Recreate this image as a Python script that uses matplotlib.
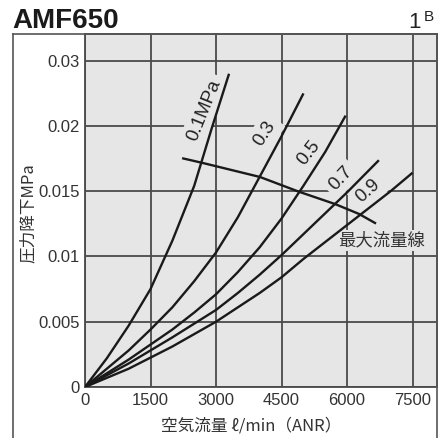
import matplotlib
matplotlib.use('Agg')
import matplotlib.pyplot as plt
from matplotlib.lines import Line2D

plt.rcParams['font.family'] = ['Liberation Sans', 'Noto Sans CJK JP', 'DejaVu Sans']

# curves: air flow (l/min ANR) vs pressure drop (MPa)
flow_01 = [0, 500, 1000, 1500, 2000, 2500, 2910, 3290]
drop_01 = [0, 0.0022, 0.0047, 0.0075, 0.0112, 0.0154, 0.0199, 0.0239]

flow_03 = [0, 1000, 1500, 2000, 2500, 3000, 3500, 4000, 4500, 4990]
drop_03 = [0, 0.0028, 0.0044, 0.0061, 0.0081, 0.0103, 0.0130, 0.0161, 0.0192, 0.0224]

flow_05 = [0, 1000, 2000, 2500, 3000, 3500, 4000, 4500, 5000, 5500, 5954]
drop_05 = [0, 0.0021, 0.0044, 0.0057, 0.0071, 0.0088, 0.0107, 0.0129, 0.0154, 0.0180, 0.0207]

flow_07 = [0, 1000, 2000, 3000, 3500, 4000, 4500, 5000, 5500, 6000, 6710]
drop_07 = [0, 0.0018, 0.0038, 0.0059, 0.0072, 0.0086, 0.0101, 0.0117, 0.0133, 0.0149, 0.0173]

flow_09 = [0, 1000, 2000, 3000, 4000, 4500, 5000, 5500, 6000, 6500, 7000, 7480]
drop_09 = [0, 0.0014, 0.0031, 0.0050, 0.0072, 0.0084, 0.0098, 0.0111, 0.0124, 0.0137, 0.0150, 0.01635]

# max flow line
max_flow = [2250, 2702, 4008, 4901, 5725, 6275, 6640]
max_drop = [0.0175, 0.01715, 0.01608, 0.01495, 0.01401, 0.01325, 0.01256]

x_ticks = [0, 1500, 3000, 4500, 6000, 7500]
# the top gridline sits at 0.025 but the chart labels it 0.03
y_ticks = [0, 0.005, 0.01, 0.015, 0.02, 0.025]
y_tick_labels = ['0', '0.005', '0.01', '0.015', '0.02', '0.03']

curve_labels = ['0.1MPa', '0.3', '0.5', '0.7', '0.9']
label_pos = [(2740, 0.0212), (4120, 0.0194), (5120, 0.0179), (5850, 0.0160), (6480, 0.0150)]
label_rot = [68, 57, 52, 47, 42]

W, H = 443, 438
bg = '#e6e6e6'
fig = plt.figure(figsize=(W / 100, H / 100), dpi=100)
ax = fig.add_axes([85 / W, (H - 387) / H, 352 / W, 353 / H])
ax.set_facecolor(bg)

grid_c = '#4a4a4a'
ax.set_xlim(0, 8060)
ax.set_ylim(0, 0.02703)
ax.set_xticks(x_ticks)
ax.set_xticklabels([str(t) for t in x_ticks])
ax.set_yticks(y_ticks)
ax.set_yticklabels(y_tick_labels)
ax.grid(True, color=grid_c, lw=1.3)
ax.tick_params(length=0, labelsize=12, colors='#333333', pad=4)
for s in ax.spines.values():
    s.set_color(grid_c)
    s.set_linewidth(1.3)

lc = '#1a1a1a'
for fx, dy in [(flow_01, drop_01), (flow_03, drop_03), (flow_05, drop_05),
               (flow_07, drop_07), (flow_09, drop_09)]:
    ax.plot(fx, dy, color=lc, lw=1.7, solid_joinstyle='round', zorder=3)
ax.plot(max_flow, max_drop, color=lc, lw=1.7, zorder=3)

# labels knock out the gridlines behind them
box = dict(boxstyle='square,pad=0.25', fc=bg, ec='none')
for txt, (px, py), r in zip(curve_labels, label_pos, label_rot):
    ax.text(px, py, txt, rotation=r, ha='center', va='center', fontsize=13.5,
            color='#222222', rotation_mode='anchor', bbox=box, zorder=2.5)

ax.text(6800, 0.0112, '最大流量線', ha='center', va='center', fontsize=12.5,
        color='#333333', family=['Noto Sans CJK JP', 'DejaVu Sans'],
        bbox=dict(boxstyle='square,pad=0.1', fc=bg, ec='none'), zorder=2.5)

ax.set_xlabel('空気流量 ℓ/min（ANR）', fontsize=12, color='#333333',
              family=['Noto Sans CJK JP', 'DejaVu Sans'], va='center')
ax.xaxis.set_label_coords((251 - 85) / 352, -(426 - 387) / 353)
ax.set_ylabel('圧力降下MPa', fontsize=12, color='#333333',
              family=['Noto Sans CJK JP', 'DejaVu Sans'], va='center')
ax.yaxis.set_label_coords((28 - 85) / 352, (387 - 213) / 353)

# outer frame
fc = '#555555'
fig.add_artist(Line2D([13 / W, 13 / W], [0, (H - 34) / H], color=fc, lw=1.2))
fig.add_artist(Line2D([13 / W, 437 / W], [(H - 34) / H, (H - 34) / H], color=fc, lw=1.2))
fig.add_artist(Line2D([437 / W, 437 / W], [0, (H - 34) / H], color=fc, lw=1.2))

fig.text(12 / W, (H - 21) / H, 'AMF650', fontsize=20, fontweight='bold',
         ha='left', va='center', color='#1a1a1a')
fig.text(421 / W, (H - 22) / H, '1', fontsize=16, ha='right', va='center', color='#222222')
fig.text(424 / W, (H - 17) / H, 'B', fontsize=11, ha='left', va='center', color='#222222')

fig.savefig('out.png', dpi=100)
